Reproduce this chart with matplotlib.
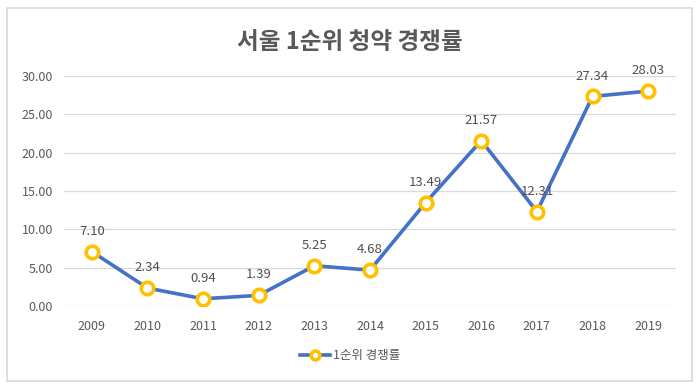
import matplotlib
matplotlib.use("Agg")
import matplotlib.pyplot as plt
from matplotlib.patches import Rectangle

plt.rcParams['font.family'] = ['Noto Sans CJK KR', 'DejaVu Sans']

years = ['2009', '2010', '2011', '2012', '2013', '2014', '2015', '2016', '2017', '2018', '2019']
rates = [7.10, 2.34, 0.94, 1.39, 5.25, 4.68, 13.49, 21.57, 12.31, 27.34, 28.03]
yticks = [0, 5, 10, 15, 20, 25, 30]
title = '서울 1순위 청약 경쟁률'
series_name = '1순위 경쟁률'

W, H = 700, 389
fig = plt.figure(figsize=(7, 3.89), dpi=100)
fig.patch.set_facecolor('white')
# chart-area border
fig.add_artist(Rectangle((7 / W, 1 - 381 / H), (692 - 7) / W, (381 - 8) / H,
                         transform=fig.transFigure, fill=False,
                         edgecolor='#D9D9D9', linewidth=1.2))

ax = fig.add_axes([64 / W, 1 - 306 / H, (676 - 64) / W, (306 - 76) / H])
x = list(range(len(years)))
ax.plot(x, rates, color='#4472C4', linewidth=2.6, marker='o', markersize=9,
        markerfacecolor='white', markeredgecolor='#FFC000', markeredgewidth=2.6,
        label=series_name, zorder=3)
for xi, v in zip(x, rates):
    ax.annotate(f'{v:.2f}', (xi, v), xytext=(0, 10), textcoords='offset points',
                ha='center', va='bottom', fontsize=9.5, color='#505050')

ax.set_xlim(-0.5, len(years) - 0.5)
ax.set_ylim(0, 30)
ax.set_yticks(yticks)
ax.set_yticklabels([f'{t:.2f}' for t in yticks])
ax.set_xticks(x)
ax.set_xticklabels(years)
ax.grid(axis='y', color='#D9D9D9', linewidth=0.9)
ax.set_axisbelow(True)
for s in ax.spines.values():
    s.set_visible(False)
ax.tick_params(length=0, colors='#595959', labelsize=9, pad=8)
ax.tick_params(axis='x', pad=10)

fig.text(0.5, 1 - 42 / H, title, ha='center', va='center', fontsize=17,
         color='#595959', fontweight='bold')

leg = fig.legend(loc='center', bbox_to_anchor=(0.5, 1 - 356 / H), frameon=False,
                 fontsize=9, handlelength=2.4, handletextpad=0.3, markerscale=0.7)
for t in leg.get_texts():
    t.set_color('#595959')

fig.savefig('out.png', dpi=100, facecolor='white')
